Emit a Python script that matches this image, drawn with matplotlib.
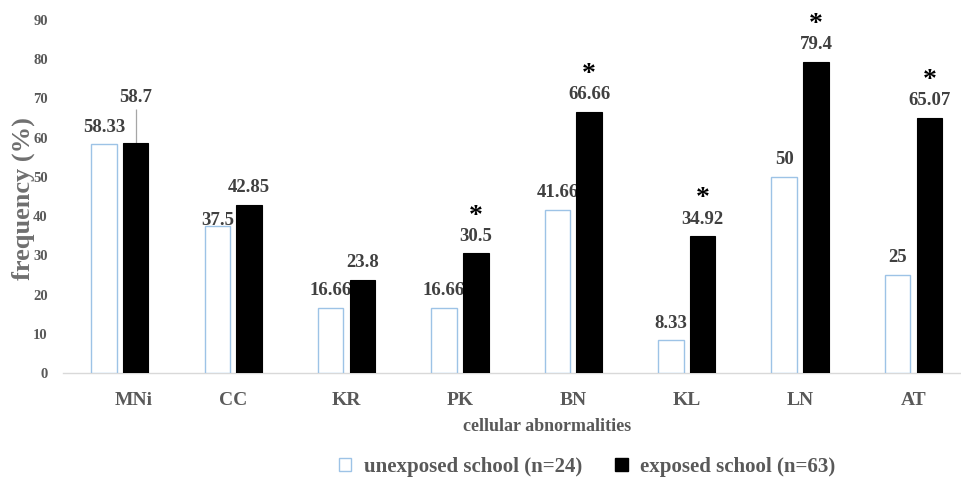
import matplotlib
matplotlib.use("Agg")
import matplotlib.pyplot as plt
from matplotlib.patches import Patch
from matplotlib.transforms import ScaledTranslation
import numpy as np

# cellular abnormality categories and frequencies (%)
categories = ["MNi", "CC", "KR", "PK", "BN", "KL", "LN", "AT"]
unexposed = [58.33, 37.5, 16.66, 16.66, 41.66, 8.33, 50, 25]
exposed = [58.7, 42.85, 23.8, 30.5, 66.66, 34.92, 79.4, 65.07]
unexposed_labels = ["58.33", "37.5", "16.66", "16.66", "41.66", "8.33", "50", "25"]
exposed_labels = ["58.7", "42.85", "23.8", "30.5", "66.66", "34.92", "79.4", "65.07"]
significant = [False, False, False, True, True, True, True, True]
yticks = [0, 10, 20, 30, 40, 50, 60, 70, 80, 90]

plt.rcParams["font.family"] = ["Liberation Serif", "DejaVu Serif"]
plt.rcParams["font.weight"] = "bold"

GREY = "#595959"
DARK = "#404040"

fig = plt.figure(figsize=(9.61, 4.93), dpi=100)
ax = fig.add_axes([0.0656, 0.2434, 0.944, 0.716])

x = np.arange(len(categories))
w = 0.225
off = 0.14

ax.bar(x - off, unexposed, w, facecolor="white", edgecolor="#9dc3e6",
       linewidth=1.0, zorder=2)
ax.bar(x + off, exposed, w, facecolor="black", edgecolor="black",
       linewidth=0.8, zorder=2)

# thin whisker above the first exposed bar
ax.vlines(x[0] + off, exposed[0], exposed[0] + 8.5, color="#a6a6a6",
          linewidth=0.9, zorder=1)

for i in range(len(categories)):
    lift = 1 if i == 1 else 9
    ax.annotate(unexposed_labels[i], (x[i] - off, unexposed[i]),
                xytext=(0, lift), textcoords="offset points",
                ha="center", va="baseline", fontsize=13.5,
                color=DARK, zorder=1)
    top = exposed[i] + 8.5 if i == 0 else exposed[i]
    ax.annotate(exposed_labels[i], (x[i] + off, top),
                xytext=(0, 5 if i == 0 else 9), textcoords="offset points",
                ha="center", va="baseline", fontsize=13.5,
                color=DARK, zorder=3)
    if significant[i]:
        ax.annotate("*", (x[i] + off, exposed[i]),
                    xytext=(0, 22), textcoords="offset points",
                    ha="center", va="baseline", fontsize=20,
                    color="black", zorder=3)

ax.set_xlim(-0.5, len(categories) - 0.5)
ax.set_ylim(0, 90)
ax.set_yticks(yticks)
ax.set_yticklabels([str(t) for t in yticks], fontsize=10.5, color=GREY)
ax.set_xticks(x)
ax.set_xticklabels(categories, fontsize=14, color=GREY)
ax.tick_params(axis="y", length=0, pad=11)
ax.tick_params(axis="x", length=0, pad=14)

# the first category name sits a little right of its group
first = ax.get_xticklabels()[0]
first.set_transform(first.get_transform()
                    + ScaledTranslation(0.14, 0, fig.dpi_scale_trans))

for side in ["top", "right", "left"]:
    ax.spines[side].set_visible(False)
ax.spines["bottom"].set_color("#d9d9d9")
ax.spines["bottom"].set_linewidth(1.0)
ax.spines["bottom"].set_zorder(1)

fig.text(0.024, 0.598, "frequency (%)", rotation=90, ha="center",
         va="center", fontsize=19, color="#6f6f6f", fontweight="bold")
fig.text(0.569, 0.134, "cellular abnormalities", ha="center", va="center",
         fontsize=13, color=GREY, fontweight="bold")

handles = [Patch(facecolor="white", edgecolor="#9dc3e6", linewidth=1.0),
           Patch(facecolor="black", edgecolor="black")]
leg = fig.legend(handles, ["unexposed school (n=24)", "exposed school (n=63)"],
                 loc="center", bbox_to_anchor=(0.611, 0.053), ncol=2,
                 frameon=False, fontsize=15, handlelength=0.6,
                 handleheight=0.6, handletextpad=0.6, columnspacing=1.6)
for t in leg.get_texts():
    t.set_color(GREY)

fig.savefig("out.png", dpi=100)
